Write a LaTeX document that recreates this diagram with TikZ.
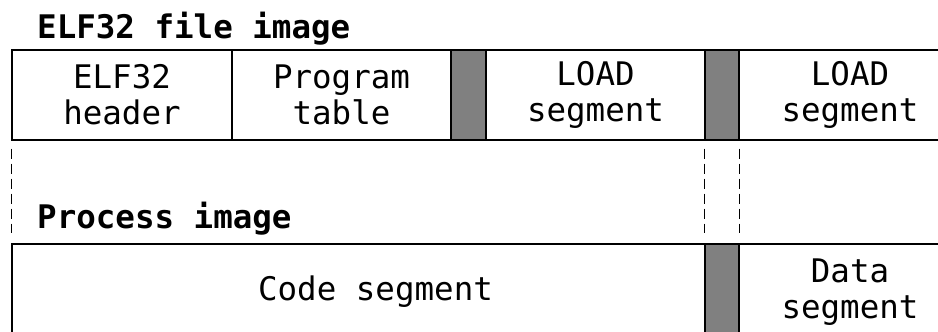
\documentclass[tikz,border=0pt]{standalone}
\usepackage{fontspec}
\setmonofont{DejaVu Sans Mono}
\begin{document}
\begin{tikzpicture}[x=1pt,y=-1pt,
  txt/.style={font=\ttfamily\fontsize{32.5}{36}\selectfont},
  ttl/.style={font=\ttfamily\bfseries\fontsize{32.5}{36}\selectfont, anchor=base west, inner sep=0pt},
  cell/.style={txt, draw=black, line width=1.2pt, inner sep=0pt, minimum height=90pt, align=center},
  gap/.style={cell, fill=gray50},
  guide/.style={draw=black, line width=1pt, dash pattern=on 10pt off 5pt}]
\definecolor{gray50}{HTML}{808080}
\useasboundingbox (0,0) rectangle (938,332);
\clip (0,0) rectangle (938,332);

% file image row
\node[ttl] (t1) at (37,38) {ELF32 file image};
\node[cell, minimum width=220pt] (hdr)  at (122,95)   {ELF32\\header};
\node[cell, minimum width=219pt] (prog) at (341.5,95) {Program\\table};
\node[gap,  minimum width=35pt]  (g1)   at (468.5,95) {};
\node[cell, minimum width=219pt] (ld1)  at (595.5,95) {LOAD\\segment};
\node[gap,  minimum width=34pt]  (g2)   at (722,95)   {};
\node[cell, minimum width=222pt] (ld2)  at (850,95)   {LOAD\\segment};

% process image row
\node[ttl] (t2) at (37,228) {Process image};
\node[cell, minimum width=727pt, minimum height=96pt] (code) at (375.5,292) {Code segment};
\node[gap,  minimum width=34pt,  minimum height=96pt] (g3)   at (722,292)   {};
\node[cell, minimum width=222pt, minimum height=96pt] (data) at (850,292)   {Data\\segment};

% mapping guides
\draw[guide] ([yshift=-8pt]hdr.south west) -- ([yshift=10pt]code.north west);
\draw[guide] ([yshift=-8pt]g2.south west) -- ([yshift=10pt]g3.north west);
\draw[guide] ([yshift=-8pt]g2.south east) -- ([yshift=10pt]g3.north east);
\end{tikzpicture}
\end{document}
